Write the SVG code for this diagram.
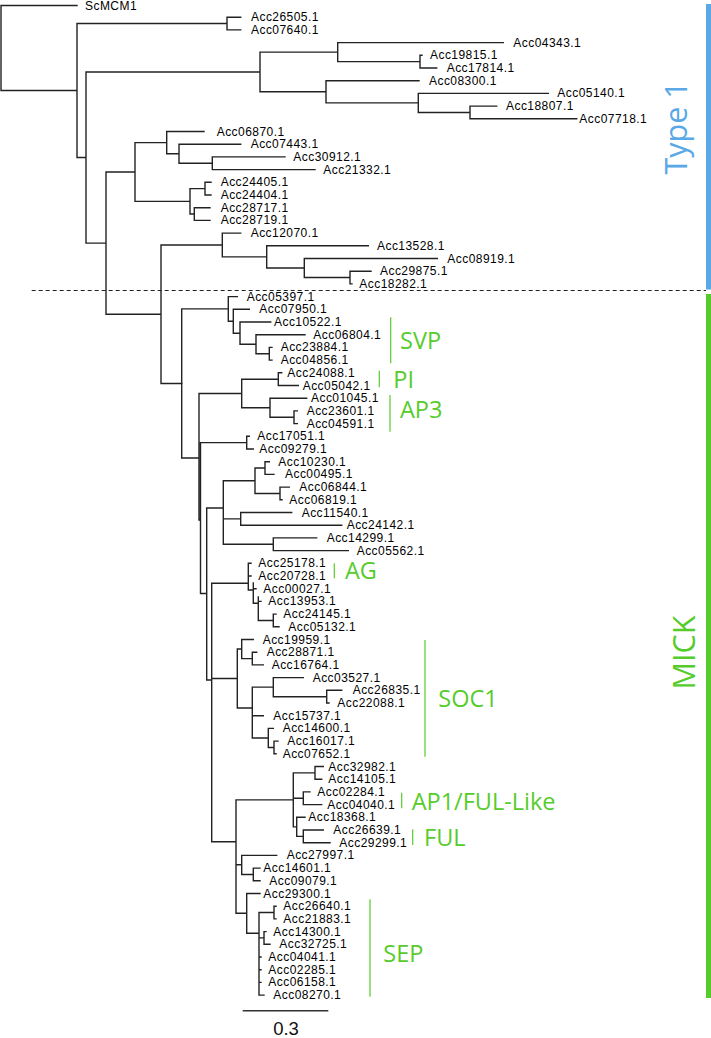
<svg xmlns="http://www.w3.org/2000/svg" width="711" height="1038" viewBox="0 0 711 1038">
<style>
.br{fill:none;stroke:#222;stroke-width:1.4;stroke-linecap:square}
.lf{font-family:"Liberation Sans",Arial,sans-serif;font-size:12px;letter-spacing:0.45px;fill:#000}
.cl{font-family:"Open Sans",sans-serif;font-size:23.5px;fill:#56cc2b}
.big{font-family:"Open Sans",sans-serif;font-size:30.5px;text-anchor:middle}
.clb{stroke:#56cc2b;stroke-width:1.2}
</style>
<rect width="711" height="1038" fill="#fff"/>
<g id="connectors">
<path class="br" d="M1 5.5V90.5M1 5.5H77M1 90.5H77
M77 23.55V157.5M77 23.55H227M77 157.5H86
M227 17.2V29.9M227 17.2H240.7M227 29.9H240.7
M86 71.95V243.1M86 71.95H260M86 243.1H106
M260 52.1V91.8M260 52.1H337.7M260 91.8H326
M337.7 42.6V61.65M337.7 42.6H503.3M337.7 61.65H420
M420 55.3V68M420 55.3H422M420 68H436.7
M326 80.7V102.9M326 80.7H419M326 102.9H418.3
M418.3 93.4V112.45M418.3 93.4H548.3M418.3 112.45H470
M470 106.1V118.8M470 106.1H496.7M470 118.8H576.7
M106 171.98V314.2M106 171.98H135M106 314.2H161
M135 142.6V201.35M135 142.6H166.7M135 201.35H190
M166.7 131.5V153.7M166.7 131.5H204M166.7 153.7H179
M179 144.2V163.25M179 144.2H240.7M179 163.25H212.3
M212.3 156.9V169.6M212.3 156.9H285M212.3 169.6H315
M190 188.65V214.05M190 188.65H205M190 214.05H194.3
M205 182.3V195M205 182.3H211M205 195H211
M194.3 207.7V220.4M194.3 207.7H210M194.3 220.4H210
M161 245V383.45M161 245H222.3M161 383.45H181.7
M222.3 233.1V256.9M222.3 233.1H240.7M222.3 256.9H266.7
M266.7 245.8V268M266.7 245.8H368.3M266.7 268H304.3
M304.3 258.5V277.55M304.3 258.5H437.3M304.3 277.55H350
M350 271.2V283.9M350 271.2H371M350 283.9H352"/>
<path class="br" d="M181.7 308.9V458M181.7 308.9H228.3M181.7 458H199
M228.3 296.6V321.2M228.3 296.6H237.3M228.3 321.2H233.3
M233.3 309.3V333.2M233.3 309.3H249.3M233.3 333.2H240
M240 322V344.3M240 322H270.7M240 344.3H256
M256 334.7V353.8M256 334.7H305M256 353.8H269.3
M269.3 347.4V360.1M269.3 347.4H272M269.3 360.1H272
M199 393.5V520M199 393.5H241.7M199 520H200.5
M241.7 379.2V407.7M241.7 379.2H278.3M241.7 407.7H270
M278.3 372.8V385.5M278.3 372.8H281.7M278.3 385.5H298.3
M270 398.2V417.2M270 398.2H306.7M270 417.2H294
M294 410.9V423.6M294 410.9H297.3M294 423.6H297.3
M200.5 442.6V593.5M200.5 442.6H246.7M200.5 593.5H206.7
M246.7 436.3V449M246.7 436.3H249.3M246.7 449H253.3
M206.7 508V680M206.7 508H223.3M206.7 680H211.7
M223.3 480.7V544.3M223.3 480.7H255M223.3 518.9H240.7M223.3 544.3H273.3
M255 468V493.5M255 468H265M255 493.5H280
M265 461.7V474.4M265 461.7H269.3M265 474.4H274
M280 487.1V499.8M280 487.1H289.3M280 499.8H282
M240.7 512.5V525.2M240.7 512.5H291.7M240.7 525.2H341.7
M273.3 537.9V550.6M273.3 537.9H316.7M273.3 550.6H348.3
M211.7 583.3V841.7M211.7 583.3H248.3M211.7 678.5H237.3M211.7 841.7H236
M248.3 563.3V590M248.3 563.3H251M248.3 576H251M248.3 590H253.3
M253.3 583V603.3M253.3 588.7H256M253.3 603.3H258.3
M258.3 597V620.5M258.3 601.4H261M258.3 620.5H273.3
M273.3 614.1V626.8M273.3 614.1H276M273.3 626.8H279
M237.3 649V708M237.3 649H241.7M237.3 708H252.3
M241.7 639.5V658.6M241.7 639.5H253.3M241.7 658.6H252.3
M252.3 652.2V664.9M252.3 652.2H256.7M252.3 664.9H263.3
M252.3 687.1V738M252.3 687.1H273.3M252.3 715.7H263.3M252.3 738H268.3
M273.3 677.6V696.7M273.3 677.6H303.3M273.3 696.7H326.7
M326.7 690.3V703M326.7 690.3H341.7M326.7 703H329
M268.3 728.4V747.5M268.3 728.4H273.3M268.3 747.5H274
M274 741.1V753.8M274 741.1H278M274 753.8H276
M236 799.9V913.3M236 799.9H293.3M236 864.8H241.7M236 913.3H246.7
M293.3 772.9V826.9M293.3 772.9H315M293.3 798.3H303.3M293.3 826.9H296.7
M315 766.5V779.2M315 766.5H323.3M315 779.2H321.7
M303.3 791.9V804.6M303.3 791.9H310M303.3 804.6H321.7
M296.7 817.3V836.4M296.7 817.3H305M296.7 836.4H303.3
M303.3 830V842.7M303.3 830H323.3M303.3 842.7H330
M241.7 855.4V874.5M241.7 855.4H276.7M241.7 874.5H253.3
M253.3 868.1V880.8M253.3 868.1H260M253.3 880.8H260
M246.7 893.5V933.3M246.7 893.5H260M246.7 933.3H259
M259 912.5V995.1M259 912.5H274M259 937.9H264M259 957H261M259 969.7H261M259 982.4H261M259 995.1H264
M274 906.2V918.9M274 906.2H276M274 918.9H276
M264 931.6V944.3M264 931.6H266M264 944.3H270"/>
<line x1="31.7" y1="290.5" x2="706" y2="290.5" stroke="#222" stroke-width="1" stroke-dasharray="4 3"/>
<line x1="242.7" y1="1010.7" x2="328.3" y2="1010.7" stroke="#333" stroke-width="1.6"/>
</g>
<g id="leaves" class="lf">
<g id="n-ScMCM1"><text x="85" y="10">ScMCM1</text></g>
<g id="n-Acc26505"><text x="251" y="21.2">Acc26505.1</text></g>
<g id="n-Acc07640"><text x="251" y="33.9">Acc07640.1</text></g>
<g id="n-Acc04343"><text x="513.3" y="46.6">Acc04343.1</text></g>
<g id="n-Acc19815"><text x="430" y="59.3">Acc19815.1</text></g>
<g id="n-Acc17814"><text x="446.7" y="72">Acc17814.1</text></g>
<g id="n-Acc08300"><text x="429" y="84.7">Acc08300.1</text></g>
<g id="n-Acc05140"><text x="557.3" y="97.4">Acc05140.1</text></g>
<g id="n-Acc18807"><text x="506" y="110.1">Acc18807.1</text></g>
<g id="n-Acc07718"><text x="579.3" y="122.8">Acc07718.1</text></g>
<g id="n-Acc06870"><text x="216.7" y="135.5">Acc06870.1</text></g>
<g id="n-Acc07443"><text x="250.7" y="148.2">Acc07443.1</text></g>
<g id="n-Acc30912"><text x="293.3" y="160.9">Acc30912.1</text></g>
<g id="n-Acc21332"><text x="323.3" y="173.6">Acc21332.1</text></g>
<g id="n-Acc24405"><text x="220.7" y="186.3">Acc24405.1</text></g>
<g id="n-Acc24404"><text x="220.7" y="199">Acc24404.1</text></g>
<g id="n-Acc28717"><text x="220.7" y="211.7">Acc28717.1</text></g>
<g id="n-Acc28719"><text x="220.7" y="224.4">Acc28719.1</text></g>
<g id="n-Acc12070"><text x="250.7" y="237.1">Acc12070.1</text></g>
<g id="n-Acc13528"><text x="377" y="249.8">Acc13528.1</text></g>
<g id="n-Acc08919"><text x="447.3" y="262.5">Acc08919.1</text></g>
<g id="n-Acc29875"><text x="380" y="275.2">Acc29875.1</text></g>
<g id="n-Acc18282"><text x="359.3" y="287.9">Acc18282.1</text></g>
<g id="n-Acc05397"><text x="246.7" y="300.6">Acc05397.1</text></g>
<g id="n-Acc07950"><text x="259.3" y="313.3">Acc07950.1</text></g>
<g id="n-Acc10522"><text x="274" y="326">Acc10522.1</text></g>
<g id="n-Acc06804"><text x="313.3" y="338.7">Acc06804.1</text></g>
<g id="n-Acc23884"><text x="280.7" y="351.4">Acc23884.1</text></g>
<g id="n-Acc04856"><text x="280.7" y="364.1">Acc04856.1</text></g>
<g id="n-Acc24088"><text x="287.3" y="376.8">Acc24088.1</text></g>
<g id="n-Acc05042"><text x="302.7" y="389.5">Acc05042.1</text></g>
<g id="n-Acc01045"><text x="311" y="402.2">Acc01045.1</text></g>
<g id="n-Acc23601"><text x="306.7" y="414.9">Acc23601.1</text></g>
<g id="n-Acc04591"><text x="306.7" y="427.6">Acc04591.1</text></g>
<g id="n-Acc17051"><text x="257.3" y="440.3">Acc17051.1</text></g>
<g id="n-Acc09279"><text x="259.3" y="453">Acc09279.1</text></g>
<g id="n-Acc10230"><text x="278.3" y="465.7">Acc10230.1</text></g>
<g id="n-Acc00495"><text x="285" y="478.4">Acc00495.1</text></g>
<g id="n-Acc06844"><text x="299.3" y="491.1">Acc06844.1</text></g>
<g id="n-Acc06819"><text x="289.3" y="503.8">Acc06819.1</text></g>
<g id="n-Acc11540"><text x="301.7" y="516.5">Acc11540.1</text></g>
<g id="n-Acc24142"><text x="346.7" y="529.2">Acc24142.1</text></g>
<g id="n-Acc14299"><text x="326.7" y="541.9">Acc14299.1</text></g>
<g id="n-Acc05562"><text x="356.7" y="554.6">Acc05562.1</text></g>
<g id="n-Acc25178"><text x="258.3" y="567.3">Acc25178.1</text></g>
<g id="n-Acc20728"><text x="258.3" y="580">Acc20728.1</text></g>
<g id="n-Acc00027"><text x="263.3" y="592.7">Acc00027.1</text></g>
<g id="n-Acc13953"><text x="268.3" y="605.4">Acc13953.1</text></g>
<g id="n-Acc24145"><text x="283.3" y="618.1">Acc24145.1</text></g>
<g id="n-Acc05132"><text x="288.3" y="630.8">Acc05132.1</text></g>
<g id="n-Acc19959"><text x="262.7" y="643.5">Acc19959.1</text></g>
<g id="n-Acc28871"><text x="266.7" y="656.2">Acc28871.1</text></g>
<g id="n-Acc16764"><text x="271.7" y="668.9">Acc16764.1</text></g>
<g id="n-Acc03527"><text x="312.7" y="681.6">Acc03527.1</text></g>
<g id="n-Acc26835"><text x="352.7" y="694.3">Acc26835.1</text></g>
<g id="n-Acc22088"><text x="337.3" y="707">Acc22088.1</text></g>
<g id="n-Acc15737"><text x="273.3" y="719.7">Acc15737.1</text></g>
<g id="n-Acc14600"><text x="282.7" y="732.4">Acc14600.1</text></g>
<g id="n-Acc16017"><text x="287.3" y="745.1">Acc16017.1</text></g>
<g id="n-Acc07652"><text x="282.7" y="757.8">Acc07652.1</text></g>
<g id="n-Acc32982"><text x="328.3" y="770.5">Acc32982.1</text></g>
<g id="n-Acc14105"><text x="328.3" y="783.2">Acc14105.1</text></g>
<g id="n-Acc02284"><text x="317.3" y="795.9">Acc02284.1</text></g>
<g id="n-Acc04040"><text x="327.3" y="808.6">Acc04040.1</text></g>
<g id="n-Acc18368"><text x="308.3" y="821.3">Acc18368.1</text></g>
<g id="n-Acc26639"><text x="333.3" y="834">Acc26639.1</text></g>
<g id="n-Acc29299"><text x="339.3" y="846.7">Acc29299.1</text></g>
<g id="n-Acc27997"><text x="286.7" y="859.4">Acc27997.1</text></g>
<g id="n-Acc14601"><text x="263.3" y="872.1">Acc14601.1</text></g>
<g id="n-Acc09079"><text x="269.3" y="884.8">Acc09079.1</text></g>
<g id="n-Acc29300"><text x="263.3" y="897.5">Acc29300.1</text></g>
<g id="n-Acc26640"><text x="283.3" y="910.2">Acc26640.1</text></g>
<g id="n-Acc21883"><text x="283.3" y="922.9">Acc21883.1</text></g>
<g id="n-Acc14300"><text x="273.3" y="935.6">Acc14300.1</text></g>
<g id="n-Acc32725"><text x="279.3" y="948.3">Acc32725.1</text></g>
<g id="n-Acc04041"><text x="268.3" y="961">Acc04041.1</text></g>
<g id="n-Acc02285"><text x="268.3" y="973.7">Acc02285.1</text></g>
<g id="n-Acc06158"><text x="268.3" y="986.4">Acc06158.1</text></g>
<g id="n-Acc08270"><text x="273.3" y="999.1">Acc08270.1</text></g>
</g>
<g id="clades">
<g id="c-SVP"><line class="clb" x1="390.7" y1="317.3" x2="390.7" y2="363.3"/><text class="cl" x="400" y="348.5">SVP</text></g>
<g id="c-PI"><line class="clb" x1="379.3" y1="370.7" x2="379.3" y2="387.3"/><text class="cl" x="393.3" y="387.7">PI</text></g>
<g id="c-AP3"><line class="clb" x1="390" y1="395" x2="390" y2="431.7"/><text class="cl" x="400" y="418.3">AP3</text></g>
<g id="c-AG"><line class="clb" x1="334.3" y1="563.3" x2="334.3" y2="578.3"/><text class="cl" x="345" y="579">AG</text></g>
<g id="c-SOC1"><line class="clb" x1="425" y1="640" x2="425" y2="756.7"/><text class="cl" x="438.3" y="707.3">SOC1</text></g>
<g id="c-AP1"><line class="clb" x1="401.7" y1="792.7" x2="401.7" y2="808.3"/><text class="cl" x="411.7" y="810">AP1/FUL-Like</text></g>
<g id="c-FUL"><line class="clb" x1="412.7" y1="829.3" x2="412.7" y2="845"/><text class="cl" x="424" y="845.7">FUL</text></g>
<g id="c-SEP"><line class="clb" x1="370" y1="899.3" x2="370" y2="996.7"/><text class="cl" x="383.3" y="961.7">SEP</text></g>
</g>
<g id="type1">
<rect x="706" y="4" width="5" height="285.5" fill="#5ba8e6"/>
<text class="big" fill="#5ba8e6" transform="translate(687,128) rotate(-90)">Type 1</text>
</g>
<g id="mick">
<rect x="706" y="294" width="5" height="704" fill="#56cc2b"/>
<text class="big" fill="#56cc2b" transform="translate(695,652.5) rotate(-90)">MICK</text>
</g>
<g id="scale">
<text x="286" y="1035" font-family="Liberation Sans, Arial, sans-serif" font-size="18.5" text-anchor="middle" fill="#111">0.3</text>
</g>
</svg>
